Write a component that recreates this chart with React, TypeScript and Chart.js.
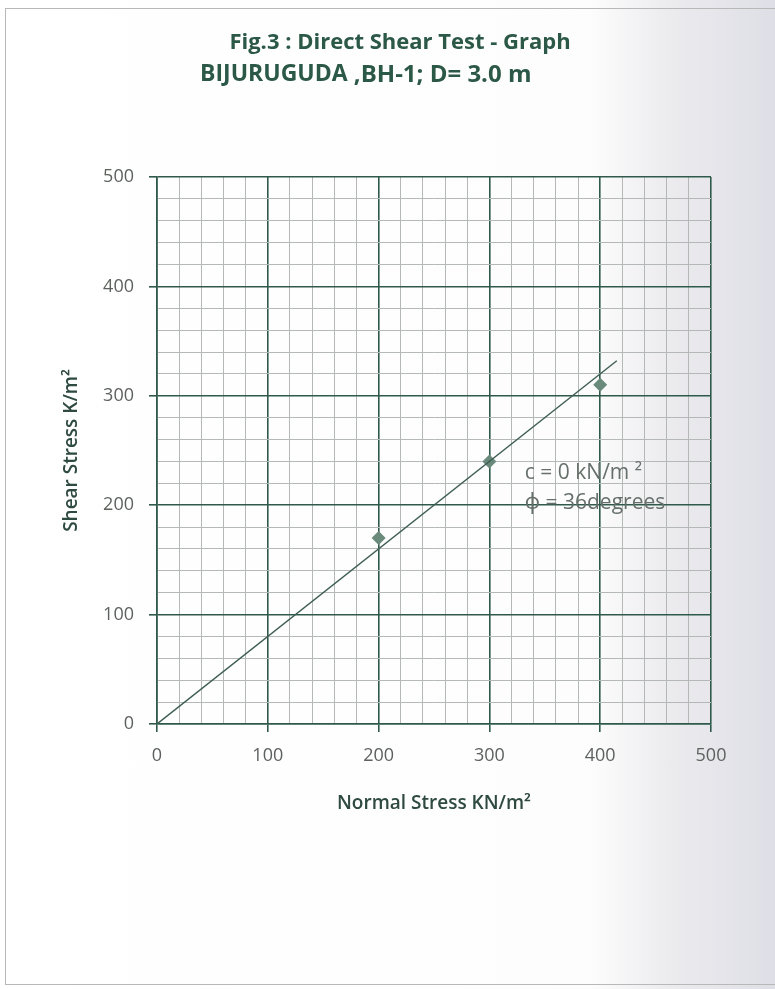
import React, { useEffect, useRef } from "react";
import { Chart, registerables } from "chart.js";

Chart.register(...registerables);

const titleLine1 = "Fig.3 : Direct Shear Test - Graph";
const titleLine2Bold = "BIJURUGUDA";
const titleLine2Rest = " ,BH-1; D= 3.0 m";
const xTitle = "Normal Stress KN/m²";
const yTitle = "Shear Stress K/m²";

const normalStress = [200, 300, 400];
const shearStress = [170, 240, 310];

const fitLineX = [0, 415];
const fitLineY = [0, 332];

const annotationLines = ["c = 0 kN/m ²", "ϕ = 36degrees"];
const annotationX = [332, 332];
const annotationY = [229, 202];

const axisMin = 0;
const axisMax = 500;
const minorStep = 20;
const majorStep = 100;

const GREEN = "#2f5a4b";
const MINOR = "#b4b8b6";
const TICKTXT = "#5e625f";
const FONT = "'Open Sans', 'Noto Sans', sans-serif";

export default function App() {
  const ref = useRef<HTMLCanvasElement>(null);

  useEffect(() => {
    if (!ref.current) return;

    const textPlugin = {
      id: "texts",
      afterDraw(chart: any) {
        const ctx = chart.ctx;
        ctx.save();
        ctx.fillStyle = "#2c5848";
        ctx.textBaseline = "middle";
        ctx.textAlign = "center";
        ctx.font = `bold 22px ${FONT}`;
        ctx.fillText(titleLine1, 400, 43);
        ctx.textAlign = "left";
        ctx.font = `bold 23px ${FONT}`;
        ctx.fillText(titleLine2Bold, 200, 74);
        const w = ctx.measureText(titleLine2Bold).width;
        ctx.font = `bold 24px ${FONT}`;
        ctx.fillText(titleLine2Rest, 200 + w, 75);

        const xs = chart.scales.x;
        const ys = chart.scales.y;
        ctx.font = `21px ${FONT}`;
        ctx.fillStyle = "#66706b";
        ctx.textAlign = "left";
        annotationLines.forEach((t, i) => {
          ctx.fillText(t, xs.getPixelForValue(annotationX[i]), ys.getPixelForValue(annotationY[i]));
        });
        ctx.restore();
      },
    };

    const gridColor = (c: any) =>
      c.tick && c.tick.value % majorStep === 0 ? GREEN : MINOR;
    const gridWidth = (c: any) =>
      c.tick && c.tick.value % majorStep === 0 ? 1.6 : 1;
    const tickColor = (c: any) =>
      c.tick && c.tick.value % majorStep === 0 ? GREEN : "rgba(0,0,0,0)";
    const tickLabel = (v: any) => (Number(v) % majorStep === 0 ? String(v) : "");

    const chart = new Chart(ref.current, {
      type: "scatter",
      data: {
        datasets: [
          {
            type: "line",
            data: fitLineX.map((x, i) => ({ x, y: fitLineY[i] })),
            borderColor: "#3f5e52",
            borderWidth: 1.4,
            pointRadius: 0,
            showLine: true,
            fill: false,
          },
          {
            data: normalStress.map((x, i) => ({ x, y: shearStress[i] })),
            pointStyle: "rectRot",
            pointRadius: 7,
            pointBackgroundColor: "#6a8a7b",
            pointBorderColor: "#6a8a7b",
            pointBorderWidth: 0,
          },
        ],
      },
      options: {
        animation: false,
        responsive: false,
        layout: { padding: { left: 0, right: 64, top: 177, bottom: 165 } },
        plugins: {
          legend: { display: false },
          tooltip: { enabled: false },
          title: { display: false },
        },
        scales: {
          x: {
            type: "linear",
            min: axisMin,
            max: axisMax,
            afterFit: (s: any) => {
              s.height = 100;
            },
            ticks: {
              stepSize: minorStep,
              autoSkip: false,
              maxRotation: 0,
              callback: tickLabel,
              color: TICKTXT,
              padding: 13,
              font: { family: FONT, size: 18 },
            },
            grid: {
              color: gridColor,
              lineWidth: gridWidth,
              tickColor: tickColor,
              tickLength: 8,
            },
            border: { color: GREEN, width: 1.6 },
            title: {
              display: true,
              text: xTitle,
              color: "#2f4a40",
              font: { family: FONT, size: 19, weight: "600" },
              padding: { top: 0, bottom: 9 },
            },
          },
          y: {
            type: "linear",
            min: axisMin,
            max: axisMax,
            afterFit: (s: any) => {
              s.width = 157;
            },
            ticks: {
              stepSize: minorStep,
              autoSkip: false,
              callback: tickLabel,
              color: TICKTXT,
              padding: 15,
              font: { family: FONT, size: 18 },
            },
            grid: {
              color: gridColor,
              lineWidth: gridWidth,
              tickColor: tickColor,
              tickLength: 8,
            },
            border: { color: GREEN, width: 1.6 },
            title: {
              display: true,
              text: yTitle,
              color: "#2f4a40",
              font: { family: FONT, size: 19, weight: "600" },
              padding: { top: 60, bottom: 0 },
            },
          },
        },
      },
      plugins: [textPlugin],
    } as any);

    return () => chart.destroy();
  }, []);

  return (
    <div
      style={{
        position: "absolute",
        left: 0,
        top: 0,
        width: 775,
        height: 989,
        background:
          "linear-gradient(to right, #ffffff 0%, #fdfdfd 76%, #ececef 86%, #dedee6 100%)",
        overflow: "hidden",
      }}
    >
      <div
        style={{
          position: "absolute",
          left: 5,
          top: 8,
          width: 775,
          height: 977,
          border: "1px solid #b8b8b8",
          boxSizing: "border-box",
        }}
      />
      <canvas
        ref={ref}
        width={775}
        height={989}
        style={{ position: "absolute", left: 0, top: 0, width: 775, height: 989 }}
      />
    </div>
  );
}
